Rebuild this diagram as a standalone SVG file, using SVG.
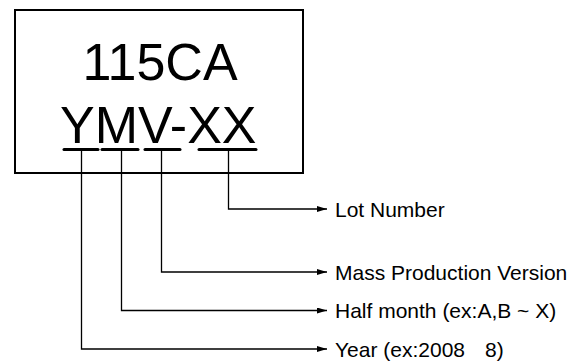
<svg xmlns="http://www.w3.org/2000/svg" width="575" height="362" viewBox="0 0 575 362">
<style>
.big{font-family:"Liberation Sans",Arial,sans-serif;font-size:52px;fill:#000}
.lbl{font-family:"Liberation Sans",Arial,sans-serif;font-size:21px;fill:#000}
.ul{stroke:#000;stroke-width:3;stroke-linecap:round;fill:none}
.cn{stroke:#000;stroke-width:1.3;fill:none}
</style>
<defs>
<marker id="ah" viewBox="0 0 10 6" refX="10" refY="3" markerWidth="10" markerHeight="6" markerUnits="userSpaceOnUse" orient="auto">
<path d="M0,0 L10,3 L0,6 Z" fill="#000"/>
</marker>
</defs>
<rect width="575" height="362" fill="#fff"/>
<g id="box">
<rect x="15" y="10" width="288" height="163" fill="#fff" stroke="#000" stroke-width="2"/>
<text class="big" x="160" y="80" text-anchor="middle">115CA</text>
<text class="big" x="60" y="143">YMV-XX</text>
<line class="ul" x1="64" y1="149.5" x2="98" y2="149.5"/>
<line class="ul" x1="102" y1="149.5" x2="138" y2="149.5"/>
<line class="ul" x1="145" y1="149.5" x2="180" y2="149.5"/>
<line class="ul" x1="199" y1="149.5" x2="256" y2="149.5"/>
</g>
<g id="connectors">
<path class="cn" d="M228.5,150 V209 H327" marker-end="url(#ah)"/>
<path class="cn" d="M161.5,150 V272 H327" marker-end="url(#ah)"/>
<path class="cn" d="M121.5,150 V310.5 H327" marker-end="url(#ah)"/>
<path class="cn" d="M81.5,150 V349 H327" marker-end="url(#ah)"/>
</g>
<g id="lot"><text class="lbl" x="335" y="216.5">Lot Number</text></g>
<g id="mass"><text class="lbl" x="335" y="279.5">Mass Production Version</text></g>
<g id="half"><text class="lbl" x="335" y="318">Half month (ex:A,B ~ X)</text></g>
<g id="year"><text class="lbl" x="335" y="356.5">Year (ex:2008<tspan x="485">8)</tspan></text></g>
</svg>
